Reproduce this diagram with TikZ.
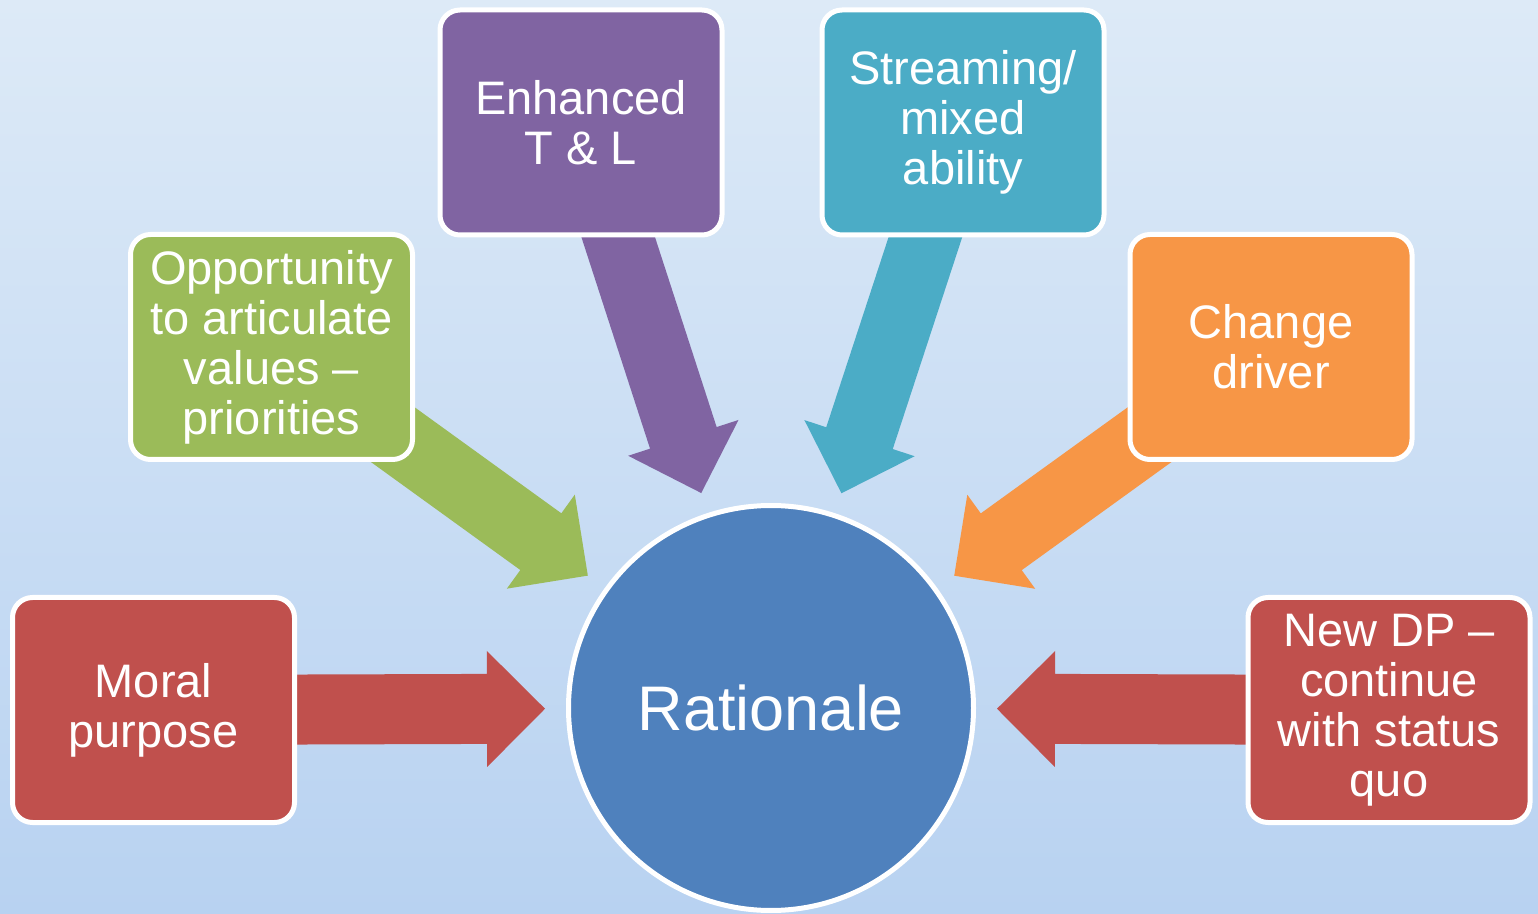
\documentclass[tikz,border=0pt]{standalone}
\usepackage{fontspec}
\setmainfont{Liberation Sans}
\usetikzlibrary{calc}
\definecolor{cred}{HTML}{C0504D}
\definecolor{cgreen}{HTML}{9BBB59}
\definecolor{cpurple}{HTML}{8064A2}
\definecolor{cteal}{HTML}{4BACC6}
\definecolor{corange}{HTML}{F79646}
\definecolor{cblue}{HTML}{4F81BD}
\definecolor{bgtop}{HTML}{DDEAF7}
\definecolor{bgbot}{HTML}{B8D2F1}
\pgfdeclarelayer{bgzero}
\pgfdeclarelayer{bgone}
\pgfsetlayers{bgzero,bgone,main}
% block arrow from #1 (start) to #2 (tip), colour #3
\newcommand\myblockarrow[3]{%
  \coordinate (#2-h) at ($(#2)!29pt!(#1)$);
  \fill[#3] ($(#1)!17.5pt!90:(#2)$) -- ($(#2-h)!17.5pt!90:(#2)$) --
    ($(#2-h)!29pt!90:(#2)$) -- (#2) -- ($(#2-h)!29pt!-90:(#2)$) --
    ($(#2-h)!17.5pt!-90:(#2)$) -- ($(#1)!17.5pt!-90:(#2)$) -- cycle;}
\tikzset{
  box/.style={draw=white, line width=2.5pt, rounded corners=10pt,
    minimum width=141pt, minimum height=112.5pt, inner sep=0pt,
    text=white, align=center, font=\fontsize{23.5}{25}\selectfont},
  hub/.style={circle, draw=white, line width=2.5pt, fill=cblue,
    minimum size=202.5pt, inner sep=0pt, text=white,
    font=\fontsize{31.5}{36}\selectfont}
}
\begin{document}
\begin{tikzpicture}[x=0.5pt, y=-0.5pt]
\useasboundingbox (0,0) rectangle (1538,914);
\begin{pgfonlayer}{bgzero}
\shade[top color=bgtop, bottom color=bgbot] (0,0) rectangle (1538,914);
\end{pgfonlayer}

\node[box, fill=cred]    (moral)  at (153.5,710) {Moral\\purpose};
\node[box, fill=cgreen]  (opp)    at (271.5,347) {Opportunity\\to articulate\\values –\\priorities};
\node[box, fill=cpurple] (enh)    at (581,122.5) {Enhanced\\T \& L};
\node[box, fill=cteal]   (stream) at (963,122.5) {Streaming/\\mixed\\ability};
\node[box, fill=corange] (change) at (1271,347)  {Change\\driver};
\node[box, fill=cred]    (newdp)  at (1389,710)  {New DP –\\continue\\with status\\quo};
\node[hub] (rat) at (771,708) {Rationale};

\coordinate (tmoral)  at ($(rat)!113pt!(moral)$);
\coordinate (topp)    at ($(rat)!113pt!(opp)$);
\coordinate (tenh)    at ($(rat)!113pt!(enh)$);
\coordinate (tstream) at ($(rat)!113pt!(stream)$);
\coordinate (tchange) at ($(rat)!113pt!(change)$);
\coordinate (tnewdp)  at ($(rat)!113pt!(newdp)$);

\begin{pgfonlayer}{bgone}
\myblockarrow{moral}{tmoral}{cred}
\myblockarrow{opp}{topp}{cgreen}
\myblockarrow{enh}{tenh}{cpurple}
\myblockarrow{stream}{tstream}{cteal}
\myblockarrow{change}{tchange}{corange}
\myblockarrow{newdp}{tnewdp}{cred}
\end{pgfonlayer}
\end{tikzpicture}
\end{document}
